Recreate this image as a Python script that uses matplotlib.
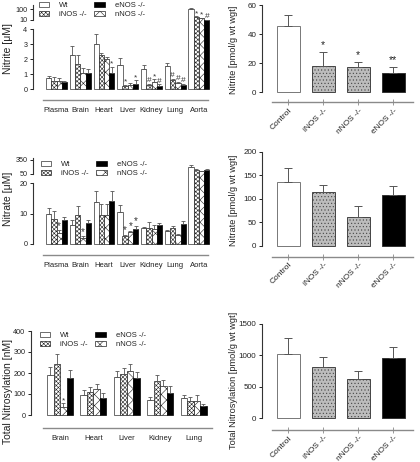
import numpy as np
import matplotlib
matplotlib.use('Agg')
import matplotlib.pyplot as plt

plt.rcParams['font.family'] = ['Liberation Sans', 'DejaVu Sans']
plt.rcParams['font.size'] = 5.5
plt.rcParams['hatch.linewidth'] = 0.4
plt.rcParams['text.color'] = '#222222'
plt.rcParams['xtick.color'] = '#222222'
plt.rcParams['ytick.color'] = '#222222'

W, H = 420, 462

# ---- data ----
strains = ['Wt', 'iNOS -/-', 'nNOS -/-', 'eNOS -/-']
tissues7 = ['Plasma', 'Brain', 'Heart', 'Liver', 'Kidney', 'Lung', 'Aorta']
tissues5 = ['Brain', 'Heart', 'Liver', 'Kidney', 'Lung']

# nitrite [uM]  (cols: Wt, iNOS, nNOS, eNOS)
nitrite = np.array([[0.75, 0.55, 0.55, 0.47],
                    [2.3, 1.7, 1.1, 1.1],
                    [3.0, 2.3, 2.0, 1.1],
                    [1.6, 0.22, 0.27, 0.35],
                    [1.35, 0.27, 0.5, 0.22],
                    [1.55, 0.6, 0.4, 0.3],
                    [96, 32, 24, 12]])
nitrite_err = np.array([[0.12, 0.25, 0.2, 0.05],
                        [0.55, 0.55, 0.3, 0.25],
                        [0.65, 0.12, 0.15, 0.4],
                        [0.5, 0.08, 0.12, 0.22],
                        [0.25, 0.08, 0.15, 0.1],
                        [0.18, 0.1, 0.08, 0.05],
                        [9, 8, 4, 2]])
nitrite_marks = [['', '', '', ''], ['', '', '', ''], ['', '', '', '*'],
                 ['', '*', '', '*'], ['', '#', '*', '#'], ['', '#', '#', '#'],
                 ['', '*', '*', '#']]

# nitrate [uM]
nitrate = np.array([[9.7, 8.2, 3.5, 7.9],
                    [6.3, 9.5, 2.0, 6.8],
                    [13.8, 9.4, 9.4, 14.0],
                    [10.5, 2.6, 3.8, 5.0],
                    [5.4, 5.4, 5.0, 6.1],
                    [4.3, 5.3, 3.0, 6.4],
                    [200, 140, 110, 130]])
nitrate_err = np.array([[2.2, 2.6, 1.0, 1.1],
                        [1.6, 3.0, 0.5, 1.0],
                        [3.6, 3.6, 3.6, 3.5],
                        [2.3, 0.5, 0.6, 1.0],
                        [0.3, 1.7, 1.3, 0.8],
                        [0.4, 0.6, 0.3, 1.2],
                        [40, 15, 10, 20]])
nitrate_marks = [['', '', '*', ''], ['', '', '*', ''], ['', '', '', ''],
                 ['', '*', '*', '*'], ['', '', '', ''], ['', '', '', ''],
                 ['', '', '', '']]

# total nitrosylation [nM]
nitros = np.array([[189, 243, 40, 178],
                   [95, 111, 122, 79],
                   [179, 195, 211, 176],
                   [71, 162, 138, 106],
                   [79, 67, 67, 44]])
nitros_err = np.array([[38, 46, 16, 36],
                       [24, 21, 26, 24],
                       [30, 27, 32, 29],
                       [16, 27, 29, 32],
                       [16, 17, 28, 8]])
nitros_marks = [['', '', '*', ''], ['', '', '', ''], ['', '', '', ''],
                ['', '', '', ''], ['', '', '', '']]

# tissue totals [pmol/g wt wgt]
groups = ['Control', 'iNOS -/-', 'nNOS -/-', 'eNOS -/-']
nitrite_tot = [45.6, 18.3, 17.2, 13.1]
nitrite_tot_err = [7.8, 9.6, 3.4, 4.3]
nitrite_tot_marks = ['', '*', '*', '**']
nitrate_tot = [135.7, 113.6, 62, 108.6]
nitrate_tot_err = [30, 16.4, 21.6, 17.8]
nitros_tot = [1023, 811, 620, 965]
nitros_tot_err = [249, 159, 138, 175]

# ---- styles ----
left_styles = [dict(facecolor='white', edgecolor='#333333'),
               dict(facecolor='white', edgecolor='#222222', hatch='xxxxxxxx'),
               dict(facecolor='white', edgecolor='#222222', hatch='xxx'),
               dict(facecolor='black', edgecolor='black')]
right_styles = [dict(facecolor='white', edgecolor='#777777'),
                dict(facecolor='#bdbdbd', edgecolor='#444444', hatch='.....'),
                dict(facecolor='#bdbdbd', edgecolor='#444444', hatch='.....'),
                dict(facecolor='black', edgecolor='#333333')]

fig = plt.figure(figsize=(W / 100, H / 100), dpi=100)


def px(l, t, r, b):
    return [l / W, 1 - b / H, (r - l) / W, (b - t) / H]


def ylims(top, bot, v1, y1, v2, y2):
    s = (v2 - v1) / (y1 - y2)
    return v1 - (bot - y1) * s, v1 + (y1 - top) * s


def style_axes(ax, ybounds, xbounds, yticks, fs=5.2):
    for s in ['top', 'right']:
        ax.spines[s].set_visible(False)
    ax.spines['left'].set_bounds(*ybounds)
    ax.spines['left'].set_linewidth(0.8)
    ax.spines['left'].set_color('#333333')
    if xbounds is None:
        ax.spines['bottom'].set_visible(False)
    else:
        ax.spines['bottom'].set_bounds(*xbounds)
        ax.spines['bottom'].set_color('#8a8a8a')
        ax.spines['bottom'].set_linewidth(1.0)
    ax.set_yticks(yticks)
    ax.tick_params(axis='y', length=2.5, width=0.7, pad=1.5, labelsize=fs)
    ax.patch.set_visible(False)


def draw_bars(ax, rows, vals, errs, marks, width, styles, base=0.0, show_err=True, msize=6):
    n = vals.shape[1]
    conts = []
    for j in range(n):
        xs = rows + (j - (n - 1) / 2) * width
        v = vals[rows, j]
        c = ax.bar(xs, v - base, width, bottom=base, linewidth=0.5, label=strains[j], **styles[j])
        conts.append(c)
        if show_err:
            e = errs[rows, j]
            ax.errorbar(xs, v, yerr=[np.zeros(len(xs)), e], fmt='none', ecolor='#555555',
                        elinewidth=0.6, capsize=1.2, capthick=0.6)
            for k, r in enumerate(rows):
                if marks[r][j]:
                    ax.annotate(marks[r][j], (xs[k], v[k] + e[k]), xytext=(0, -0.5),
                                textcoords='offset points', ha='center', va='bottom',
                                fontsize=msize, color='#333333')
    return conts


def legend(ax, conts, x, y):
    order = [0, 1, 3, 2]
    ax.legend([conts[i] for i in order], [strains[i] for i in order], ncol=2, frameon=False,
              loc='upper left', bbox_to_anchor=(x / W, 1 - y / H), bbox_transform=fig.transFigure,
              borderpad=0, borderaxespad=0, handlelength=1.35, handleheight=0.55,
              handletextpad=1.3, labelspacing=0.25, columnspacing=1.0, fontsize=5.5)


# ---- panel A: nitrite, broken axis ----
c0, step, w = 56.5, 23.75, 5.25 / 23.75
xl = ((33 - c0) / step, (212 - c0) / step)
xb = ((43 - c0) / step, (208 - c0) / step)
idx7 = np.arange(len(tissues7))
ax_lo = fig.add_axes(px(33, 24.5, 212, 99.5))
draw_bars(ax_lo, idx7[:-1], nitrite, nitrite_err, nitrite_marks, w, left_styles)
draw_bars(ax_lo, idx7[-1:], nitrite, nitrite_err, nitrite_marks, w, left_styles, show_err=False)
ax_lo.set_ylim(*ylims(24.5, 99.5, 0, 89, 4, 29))
ax_lo.set_xlim(*xl)
style_axes(ax_lo, (0, 4), xb, [0, 1, 2, 3, 4])
ax_lo.set_xticks(idx7, tissues7)
ax_lo.tick_params(axis='x', length=0, pad=5.5, labelsize=5.5)
ax_up = fig.add_axes(px(33, 4, 212, 24.5))
lo_up, hi_up = ylims(4, 24.5, 10, 20, 100, 9)
conts = draw_bars(ax_up, idx7[-1:], nitrite, nitrite_err, nitrite_marks, w, left_styles, base=lo_up)
ax_up.set_ylim(lo_up, hi_up)
ax_up.set_xlim(*xl)
style_axes(ax_up, (10, hi_up - 8), None, [10, 100])
ax_up.set_xticks([])
legend(ax_up, conts, 39, 2)
fig.text(8 / W, 1 - 48 / H, 'Nitrite [\u03bcM]', rotation=90, ha='center', va='center', fontsize=7.5)

# ---- panel C: nitrate, broken axis ----
ax_lo = fig.add_axes(px(33, 178.5, 212, 254.5))
draw_bars(ax_lo, idx7[:-1], nitrate, nitrate_err, nitrate_marks, w, left_styles, msize=7)
draw_bars(ax_lo, idx7[-1:], nitrate, nitrate_err, nitrate_marks, w, left_styles, show_err=False)
ax_lo.set_ylim(*ylims(178.5, 254.5, 0, 244, 20, 183))
ax_lo.set_xlim(*xl)
style_axes(ax_lo, (0, 20), xb, [0, 10, 20])
ax_lo.set_xticks(idx7, tissues7)
ax_lo.tick_params(axis='x', length=0, pad=5.5, labelsize=5.5)
ax_up = fig.add_axes(px(33, 157, 212, 178.5))
lo_up, hi_up = ylims(157, 178.5, 50, 174, 350, 160)
conts = draw_bars(ax_up, idx7[-1:], nitrate, nitrate_err, nitrate_marks, w, left_styles, base=lo_up)
ax_up.set_ylim(lo_up, hi_up)
ax_up.set_xlim(*xl)
style_axes(ax_up, (50, hi_up - 20), None, [50, 350])
ax_up.set_xticks([])
legend(ax_up, conts, 41, 161)
fig.text(8 / W, 1 - 199 / H, 'Nitrate [\u03bcM]', rotation=90, ha='center', va='center', fontsize=7.5)

# ---- panel E: nitrosylation ----
c0, step = 60, 33.4
w = 6.5 / step
idx5 = np.arange(len(tissues5))
ax = fig.add_axes(px(31, 328, 214, 427.5))
conts = draw_bars(ax, idx5, nitros, nitros_err, nitros_marks, w, left_styles)
ax.set_ylim(*ylims(328, 427.5, 0, 415, 400, 331))
ax.set_xlim((31 - c0) / step, (214 - c0) / step)
style_axes(ax, (0, 400), ((43 - c0) / step, (212 - c0) / step), [0, 100, 200, 300, 400])
ax.set_xticks(idx5, tissues5)
ax.tick_params(axis='x', length=0, pad=5.5, labelsize=5.5)
legend(ax, conts, 40, 332)
fig.text(8 / W, 1 - 391 / H, 'Total Nitrosylation [nM]', rotation=90, ha='center', va='center',
         fontsize=7.5)


# ---- right panels ----
def total_panel(rect, vals, errs, marks, ypx, yticks, ylab, lab_y):
    l, t, r, b = rect
    c0, step = 288.3, 35.0
    ax = fig.add_axes(px(l, t, r, b))
    x = np.arange(len(groups))
    for j in range(len(groups)):
        ax.bar(x[j], vals[j], 23 / step, linewidth=0.7, **right_styles[j])
    ax.errorbar(x, vals, yerr=[np.zeros(len(x)), errs], fmt='none', ecolor='#555555',
                elinewidth=0.7, capsize=3, capthick=0.7)
    if marks:
        for j in range(len(groups)):
            if marks[j]:
                ax.annotate(marks[j], (x[j], vals[j] + errs[j]), xytext=(0, 1.5),
                            textcoords='offset points', ha='center', va='bottom', fontsize=7.5)
    ax.set_ylim(*ylims(t, b, *ypx))
    ax.set_xlim((l - c0) / step, (r - c0) / step)
    style_axes(ax, (yticks[0], yticks[-1]), ((271.7 - c0) / step, (413 - c0) / step), yticks,
               fs=5.8)
    ax.set_xticks(x, groups, rotation=45, ha='right', rotation_mode='anchor')
    ax.tick_params(axis='x', direction='inout', length=4, width=0.6, color='#888888', pad=1.5,
                   labelsize=6)
    fig.text(233 / W, 1 - lab_y / H, ylab, rotation=90, ha='center', va='center', fontsize=6.6)


total_panel((262, 3, 414, 102), nitrite_tot, nitrite_tot_err, nitrite_tot_marks,
            (0, 92.3, 60, 5), [0, 20, 40, 60], 'Nitrite [pmol/g wt wgt]', 50)
total_panel((262, 150, 414, 256.5), nitrate_tot, nitrate_tot_err, None,
            (0, 245.7, 200, 151.7), [0, 50, 100, 150, 200], 'Nitrate [pmol/g wt wgt]', 200)
total_panel((262, 320, 414, 429.8), nitros_tot, nitros_tot_err, None,
            (0, 418.3, 1500, 324), [0, 500, 1000, 1500], 'Total Nitrosylation [pmol/g wt wgt]', 380)

fig.savefig('out.png', dpi=100)
